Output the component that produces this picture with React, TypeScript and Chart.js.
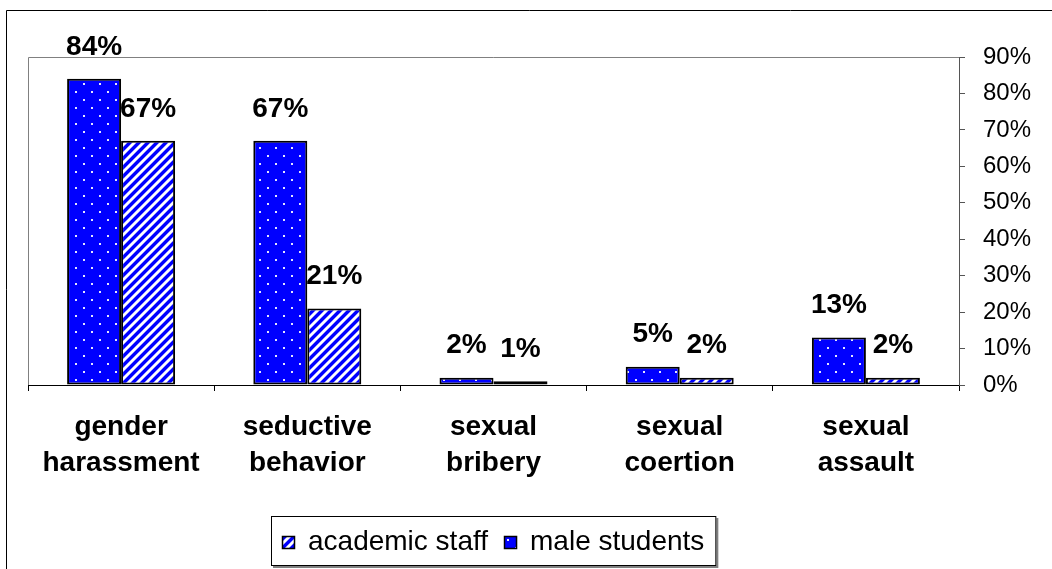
import React, { useEffect, useRef } from "react";
import { Chart, registerables } from "chart.js";

Chart.register(...registerables);

// ---- data ----
const categories: string[][] = [
  ["gender", "harassment"],
  ["seductive", "behavior"],
  ["sexual", "bribery"],
  ["sexual", "coertion"],
  ["sexual", "assault"],
];
const maleStudents: number[] = [84, 67, 2, 5, 13];
const academicStaff: number[] = [67, 21, 1, 2, 2];
const seriesNames = { male: "male students", staff: "academic staff" };
const yMin = 0;
const yMax = 90;
const yStep = 10;

const FONT = '"Liberation Sans", Arial, sans-serif';
const BLUE = "#0000ff";

function makeDotPattern(ctx: CanvasRenderingContext2D): CanvasPattern | string {
  const c = document.createElement("canvas");
  c.width = 16;
  c.height = 16;
  const g = c.getContext("2d")!;
  g.fillStyle = BLUE;
  g.fillRect(0, 0, 16, 16);
  g.fillStyle = "#e6e6ff";
  g.fillRect(3, 3, 2, 2);
  g.fillRect(11, 11, 2, 2);
  return ctx.createPattern(c, "repeat") || BLUE;
}

function makeStripePattern(ctx: CanvasRenderingContext2D): CanvasPattern | string {
  const n = 9;
  const c = document.createElement("canvas");
  c.width = n;
  c.height = n;
  const g = c.getContext("2d")!;
  for (let y = 0; y < n; y++) {
    for (let x = 0; x < n; x++) {
      const k = (x + y) % n;
      let col = "#ffffff";
      if (k <= 3) col = BLUE;
      else if (k === 4 || k === 8) col = "#8c8cff";
      g.fillStyle = col;
      g.fillRect(x, y, 1, 1);
    }
  }
  return ctx.createPattern(c, "repeat") || BLUE;
}

const framePlugin = {
  id: "frame",
  beforeDraw(chart: any) {
    const ctx = chart.ctx as CanvasRenderingContext2D;
    ctx.save();
    ctx.fillStyle = "#ffffff";
    ctx.fillRect(0, 0, chart.width, chart.height);
    ctx.strokeStyle = "#000000";
    ctx.lineWidth = 1;
    ctx.beginPath();
    ctx.moveTo(6.5, chart.height);
    ctx.lineTo(6.5, 10.5);
    ctx.lineTo(chart.width, 10.5);
    ctx.stroke();
    ctx.restore();
  },
  beforeDatasetsDraw(chart: any) {
    const ctx = chart.ctx as CanvasRenderingContext2D;
    const a = chart.chartArea;
    ctx.save();
    ctx.strokeStyle = "#808080";
    ctx.lineWidth = 1;
    ctx.beginPath();
    ctx.moveTo(a.left + 0.5, a.bottom);
    ctx.lineTo(a.left + 0.5, a.top + 0.5);
    ctx.lineTo(a.right, a.top + 0.5);
    ctx.stroke();
    ctx.restore();
  },
};

const valueLabelPlugin = {
  id: "valueLabels",
  afterDatasetsDraw(chart: any) {
    const ctx = chart.ctx as CanvasRenderingContext2D;
    ctx.save();
    ctx.font = `bold 28px ${FONT}`;
    ctx.fillStyle = "#000000";
    ctx.textAlign = "center";
    ctx.textBaseline = "middle";
    chart.data.datasets.forEach((ds: any, i: number) => {
      const meta = chart.getDatasetMeta(i);
      meta.data.forEach((bar: any, j: number) => {
        ctx.fillText(`${ds.data[j]}%`, bar.x, bar.y - 32);
      });
    });
    ctx.restore();
  },
};

const legendPlugin = {
  id: "boxLegend",
  afterDraw(chart: any) {
    const ctx = chart.ctx as CanvasRenderingContext2D;
    const a = chart.chartArea;
    ctx.save();
    ctx.font = `28px ${FONT}`;
    const items = [...chart.data.datasets].reverse().map((ds: any) => ({
      label: ds.label as string,
      fill: ds.backgroundColor,
      w: ctx.measureText(ds.label).width,
    }));
    const padL = 11, padR = 12, sw = 13, gap = 13, itemGap = 16;
    let total = padL + padR;
    items.forEach((it, i) => {
      total += sw + gap + it.w + (i > 0 ? itemGap : 0);
    });
    const h = 50;
    const left = Math.round((a.left + a.right) / 2 - total / 2);
    const top = 516;
    ctx.fillStyle = "#808080";
    ctx.fillRect(left + 2, top + 2, total, h);
    ctx.fillStyle = "#ffffff";
    ctx.fillRect(left, top, total, h);
    ctx.strokeStyle = "#000000";
    ctx.lineWidth = 1;
    ctx.strokeRect(left + 0.5, top + 0.5, total - 1, h - 1);
    let x = left + padL;
    const cy = top + h / 2;
    items.forEach((it, i) => {
      if (i > 0) x += itemGap;
      const sy = Math.round(cy - sw / 2) + 1;
      ctx.fillStyle = it.fill;
      ctx.fillRect(x, sy, sw, sw);
      ctx.lineWidth = 1.5;
      ctx.strokeStyle = "#000000";
      ctx.strokeRect(x + 0.5, sy + 0.5, sw - 1, sw - 1);
      x += sw + gap;
      ctx.fillStyle = "#000000";
      ctx.textAlign = "left";
      ctx.textBaseline = "middle";
      ctx.fillText(it.label, x, cy + 1);
      x += it.w;
    });
    ctx.restore();
  },
};

export default function App() {
  const ref = useRef<HTMLCanvasElement | null>(null);

  useEffect(() => {
    document.body.style.margin = "0";
    const canvas = ref.current!;
    const ctx = canvas.getContext("2d")!;
    const dots = makeDotPattern(ctx);
    const stripes = makeStripePattern(ctx);

    const chart = new Chart(canvas, {
      type: "bar",
      data: {
        labels: categories,
        datasets: [
          {
            label: seriesNames.male,
            data: maleStudents,
            backgroundColor: dots as any,
            borderColor: "#000000",
            borderWidth: 2,
            borderSkipped: false,
          },
          {
            label: seriesNames.staff,
            data: academicStaff,
            backgroundColor: stripes as any,
            borderColor: "#000000",
            borderWidth: 2,
            borderSkipped: false,
          },
        ],
      },
      options: {
        responsive: false,
        animation: false,
        devicePixelRatio: 1,
        layout: { padding: { left: 28, top: 57, right: 0, bottom: 0 } },
        datasets: {
          bar: { categoryPercentage: 0.58, barPercentage: 1.0 },
        },
        plugins: {
          legend: { display: false },
          tooltip: { enabled: false },
        },
        scales: {
          x: {
            position: "bottom",
            offset: true,
            grid: {
              display: true,
              drawOnChartArea: false,
              drawTicks: true,
              tickLength: 6,
              color: "#000000",
              offset: true,
            },
            border: { display: true, color: "#000000", width: 1 },
            ticks: {
              color: "#000000",
              font: { family: FONT, size: 28, weight: "bold", lineHeight: 1.29 },
              padding: 18,
              maxRotation: 0,
              autoSkip: false,
            },
            afterFit: (s: any) => {
              s.height = 569 - 385;
            },
          },
          y: {
            position: "right",
            min: yMin,
            max: yMax,
            grid: {
              display: true,
              drawOnChartArea: false,
              drawTicks: true,
              tickLength: 6,
              color: "#555555",
            },
            border: { display: true, color: "#555555", width: 1 },
            ticks: {
              stepSize: yStep,
              color: "#000000",
              font: { family: FONT, size: 24 },
              padding: 18,
              callback: (v: any) => `${v}%`,
            },
            afterFit: (s: any) => {
              s.width = 1052 - 959;
            },
          },
        },
      },
      plugins: [framePlugin, valueLabelPlugin, legendPlugin],
    });
    return () => chart.destroy();
  }, []);

  return (
    <canvas
      ref={ref}
      width={1052}
      height={569}
      style={{ display: "block", width: "1052px", height: "569px" }}
    />
  );
}
